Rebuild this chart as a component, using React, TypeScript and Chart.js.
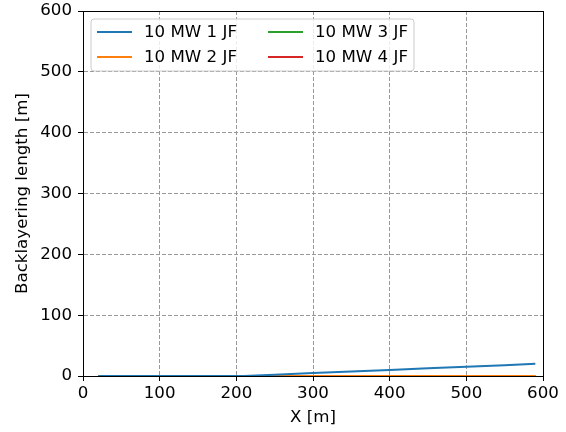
import React, { useEffect, useRef } from "react";
import { Chart, registerables } from "chart.js";

Chart.register(...registerables);

// Position along the tunnel [m]
const xPositions = [20, 50, 100, 150, 200, 210, 250, 300, 350, 400, 450, 500, 550, 590];

// Backlayering length [m] for each jet-fan configuration
const jf1 = [0, 0, 0, 0, 0, 0, 2.2, 4.8, 7.4, 10, 12.6, 15.2, 17.6, 20];
const jf2 = [0, 0, 0, 0, 0, 0, 0, 0, 0, 0, 0, 0, 0, 0];
const jf3 = [0, 0, 0, 0, 0, 0, 0, 0, 0, 0, 0, 0, 0, 0];
const jf4 = [0, 0, 0, 0, 0, 0, 0, 0, 0, 0, 0, 0, 0, 0];

const seriesLabels = ["10 MW 1 JF", "10 MW 2 JF", "10 MW 3 JF", "10 MW 4 JF"];
const seriesColors = ["#1f77b4", "#ff7f0e", "#2ca02c", "#d62728"];
const seriesValues = [jf1, jf2, jf3, jf4];

const xTicks = [0, 100, 200, 300, 400, 500, 600];
const yTicks = [0, 100, 200, 300, 400, 500, 600];

const FONT = "'DejaVu Sans', sans-serif";
const FONT_SIZE = 16.67;

// Black frame around the plot area, drawn over the lines like axis spines
const framePlugin = {
  id: "frame",
  afterDatasetsDraw(chart: any) {
    const { ctx, chartArea } = chart;
    ctx.save();
    ctx.strokeStyle = "#000";
    ctx.lineWidth = 1;
    ctx.strokeRect(
      Math.round(chartArea.left) + 0.5,
      Math.round(chartArea.top) + 0.5,
      Math.round(chartArea.right - chartArea.left),
      Math.round(chartArea.bottom - chartArea.top)
    );
    ctx.restore();
  },
};

// Two-column legend boxed inside the upper-left corner of the plot
const insideLegendPlugin = {
  id: "insideLegend",
  afterDraw(chart: any) {
    const { ctx, chartArea } = chart;
    const x0 = chartArea.left + 8;
    const y0 = chartArea.top + 8;
    const w = 323;
    const h = 52;
    ctx.save();
    ctx.beginPath();
    const r = 3;
    ctx.moveTo(x0 + r, y0);
    ctx.lineTo(x0 + w - r, y0);
    ctx.quadraticCurveTo(x0 + w, y0, x0 + w, y0 + r);
    ctx.lineTo(x0 + w, y0 + h - r);
    ctx.quadraticCurveTo(x0 + w, y0 + h, x0 + w - r, y0 + h);
    ctx.lineTo(x0 + r, y0 + h);
    ctx.quadraticCurveTo(x0, y0 + h, x0, y0 + h - r);
    ctx.lineTo(x0, y0 + r);
    ctx.quadraticCurveTo(x0, y0, x0 + r, y0);
    ctx.closePath();
    ctx.fillStyle = "rgba(255,255,255,0.8)";
    ctx.fill();
    ctx.strokeStyle = "#cccccc";
    ctx.lineWidth = 1;
    ctx.stroke();

    ctx.font = `${FONT_SIZE}px ${FONT}`;
    ctx.textBaseline = "middle";
    ctx.textAlign = "left";
    chart.data.datasets.forEach((ds: any, i: number) => {
      const col = Math.floor(i / 2);
      const row = i % 2;
      const hx = x0 + 6 + col * 171;
      const hy = y0 + 13 + row * 25;
      ctx.strokeStyle = ds.borderColor;
      ctx.lineWidth = 2;
      ctx.beginPath();
      ctx.moveTo(hx, hy);
      ctx.lineTo(hx + 35, hy);
      ctx.stroke();
      ctx.fillStyle = "#000";
      ctx.fillText(ds.label, hx + 47, hy + 1);
    });
    ctx.restore();
  },
};

export default function App() {
  const canvasRef = useRef<HTMLCanvasElement | null>(null);

  useEffect(() => {
    document.body.style.margin = "0";
    const canvas = canvasRef.current;
    if (!canvas) return;

    const datasets = seriesLabels.map((label, i) => ({
      label,
      data: xPositions.map((x, j) => ({ x, y: seriesValues[i][j] })),
      borderColor: seriesColors[i],
      backgroundColor: seriesColors[i],
      borderWidth: 2,
      pointRadius: 0,
      tension: 0,
      clip: false as any,
    }));

    const chart = new Chart(canvas, {
      type: "line",
      data: { datasets },
      options: {
        animation: false,
        responsive: false,
        devicePixelRatio: 1,
        layout: { padding: { top: 11, right: 23, left: 0, bottom: 0 } },
        plugins: {
          legend: { display: false },
          tooltip: { enabled: false },
        },
        scales: {
          x: {
            type: "linear",
            min: 0,
            max: 600,
            afterFit(scale: any) {
              scale.height = 56;
              scale.paddingLeft = 0;
              scale.paddingRight = 0;
            },
            afterBuildTicks(scale: any) {
              scale.ticks = xTicks.map((v) => ({ value: v }));
            },
            ticks: {
              color: "#000",
              font: { family: FONT, size: FONT_SIZE },
              padding: 3,
              maxRotation: 0,
            },
            grid: {
              color: "#999999",
              lineWidth: 1,
              drawTicks: true,
              tickLength: 5,
              tickColor: "#000",
              tickWidth: 1,
            },
            border: { display: true, color: "#000", width: 1, dash: [4, 2] },
            title: {
              display: true,
              text: "X [m]",
              color: "#000",
              font: { family: FONT, size: FONT_SIZE },
              padding: { top: 4, bottom: 4 },
            },
          },
          y: {
            type: "linear",
            min: 0,
            max: 600,
            afterFit(scale: any) {
              scale.width = 83;
              scale.paddingTop = 0;
              scale.paddingBottom = 0;
            },
            afterBuildTicks(scale: any) {
              scale.ticks = yTicks.map((v) => ({ value: v }));
            },
            ticks: {
              color: "#000",
              font: { family: FONT, size: FONT_SIZE },
              padding: 6,
            },
            grid: {
              color: "#999999",
              lineWidth: 1,
              drawTicks: true,
              tickLength: 5,
              tickColor: "#000",
              tickWidth: 1,
            },
            border: { display: true, color: "#000", width: 1, dash: [4, 2] },
            title: {
              display: true,
              text: "Backlayering length [m]",
              color: "#000",
              font: { family: FONT, size: FONT_SIZE },
              padding: { top: 13, bottom: 0 },
            },
          },
        },
      },
      plugins: [framePlugin, insideLegendPlugin],
    });

    return () => chart.destroy();
  }, []);

  return (
    <div style={{ position: "absolute", left: 0, top: 0, width: 566, height: 432 }}>
      <canvas ref={canvasRef} width={566} height={432} style={{ display: "block" }} />
    </div>
  );
}
